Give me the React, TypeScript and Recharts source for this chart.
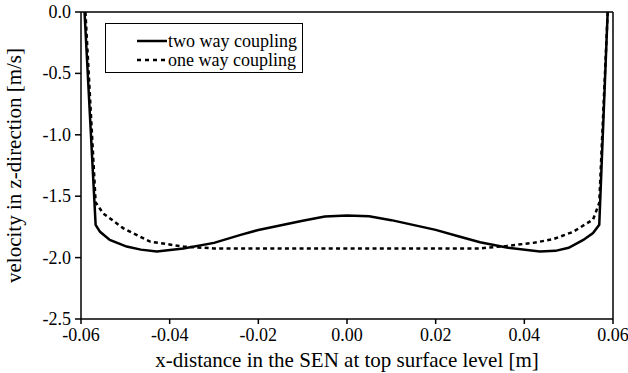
import React from 'react';
import { LineChart, Line, XAxis, YAxis, Legend, ReferenceLine } from 'recharts';

const xTicks = [-0.06, -0.04, -0.02, 0, 0.02, 0.04, 0.06];
const yTicks = [-2.5, -2.0, -1.5, -1.0, -0.5, 0];

const twoWayX = [
  -0.0592, -0.0567, -0.0557, -0.0535, -0.0497, -0.0465, -0.0429, -0.0369, -0.03, -0.024, -0.02,
  -0.01, -0.005, 0, 0.005, 0.01, 0.02, 0.0255, 0.03, 0.036, 0.0435, 0.047, 0.05, 0.0533, 0.0555,
  0.0569, 0.0588,
];
const twoWayY = [
  0, -1.733, -1.79, -1.856, -1.91, -1.935, -1.95, -1.925, -1.88, -1.815, -1.775, -1.7, -1.665,
  -1.657, -1.663, -1.695, -1.774, -1.83, -1.875, -1.918, -1.95, -1.945, -1.92, -1.856, -1.8,
  -1.733, 0,
];

const oneWayX = [
  -0.059, -0.0567, -0.055, -0.0505, -0.0444, -0.0369, -0.03, 0, 0.03, 0.036, 0.042, 0.0465, 0.051,
  0.0555, 0.0569, 0.0588,
];
const oneWayY = [
  0, -1.55, -1.64, -1.76, -1.87, -1.91, -1.925, -1.925, -1.925, -1.905, -1.88, -1.85, -1.79,
  -1.69, -1.555, 0,
];

const twoWay = twoWayX.map((x, i) => ({ x, v: twoWayY[i] }));
const oneWay = oneWayX.map((x, i) => ({ x, v: oneWayY[i] }));

const font = '"Liberation Serif", "Times New Roman", serif';

function XTick({ x, y, payload }: any) {
  return (
    <text x={x} y={y} dy={14} textAnchor="middle" fill="#000" style={{ fontFamily: font, fontSize: 18 }}>
      {payload.value.toFixed(2)}
    </text>
  );
}

function YTick({ x, y, payload }: any) {
  return (
    <text x={x} y={y} dy={6} textAnchor="end" fill="#000" style={{ fontFamily: font, fontSize: 18 }}>
      {payload.value.toFixed(1)}
    </text>
  );
}

function LegendBox() {
  return (
    <div
      style={{
        border: '1.5px solid #000',
        background: '#fff',
        width: 198,
        height: 50,
        boxSizing: 'border-box',
        fontFamily: font,
        fontSize: 18,
        color: '#000',
        paddingTop: 8,
        textAlign: 'left',
      }}
    >
      {[
        { name: 'two way coupling', dash: undefined },
        { name: 'one way coupling', dash: '4 4' },
      ].map((item) => (
        <div key={item.name} style={{ display: 'flex', alignItems: 'center', height: 18.5, marginLeft: 31 }}>
          <svg width={30} height={6}>
            <line x1={0} y1={3} x2={30} y2={3} stroke="#000" strokeWidth={2.5} strokeDasharray={item.dash} />
          </svg>
          <span style={{ marginLeft: 1, lineHeight: '18px' }}>{item.name}</span>
        </div>
      ))}
    </div>
  );
}

export default function App() {
  return (
    <div style={{ position: 'absolute', left: 0, top: 0, background: '#fff', fontFamily: font }}>
      <LineChart
        width={628}
        height={373}
        margin={{ top: 12, right: 15, left: 0, bottom: 0 }}
        style={{ fontFamily: font }}
      >
        <XAxis
          xAxisId="b"
          type="number"
          dataKey="x"
          domain={[-0.06, 0.06]}
          ticks={xTicks}
          allowDataOverflow
          tick={<XTick />}
          tickSize={5}
          tickMargin={3}
          height={54}
          stroke="#000"
          strokeWidth={1.5}
          label={{
            value: 'x-distance in the SEN at top surface level [m]',
            position: 'insideBottom',
            offset: 6,
            style: { fill: '#000', fontSize: 21, fontFamily: font },
          }}
        />
        <YAxis
          yAxisId="l"
          type="number"
          domain={[-2.5, 0]}
          ticks={yTicks}
          allowDataOverflow
          tick={<YTick />}
          tickSize={6}
          tickMargin={4}
          width={81}
          stroke="#000"
          strokeWidth={1.5}
          label={{
            value: 'velocity in z-direction [m/s]',
            angle: -90,
            position: 'center',
            dx: -27,
            style: { fill: '#000', fontSize: 21, fontFamily: font, textAnchor: 'middle' },
          }}
        />
        <ReferenceLine xAxisId="b" yAxisId="l" y={0} stroke="#000" strokeWidth={1.5} />
        <ReferenceLine xAxisId="b" yAxisId="l" x={0.06} stroke="#000" strokeWidth={1.5} />
        <Legend
          layout="horizontal"
          verticalAlign="middle"
          align="center"
          wrapperStyle={{ left: 105, top: 23, width: 198 }}
          content={() => <LegendBox />}
        />
        <Line
          xAxisId="b"
          yAxisId="l"
          data={oneWay}
          dataKey="v"
          type="linear"
          stroke="#000"
          strokeWidth={2.5}
          strokeDasharray="4 3.3"
          dot={false}
          isAnimationActive={false}
        />
        <Line
          xAxisId="b"
          yAxisId="l"
          data={twoWay}
          dataKey="v"
          type="linear"
          stroke="#000"
          strokeWidth={2.5}
          dot={false}
          isAnimationActive={false}
        />
      </LineChart>
    </div>
  );
}
